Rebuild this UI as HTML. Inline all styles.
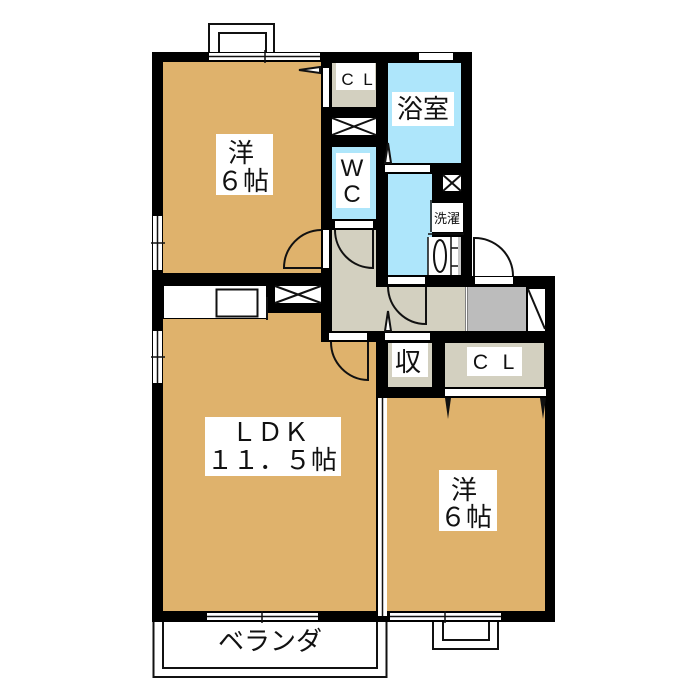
<!DOCTYPE html>
<html><head><meta charset="utf-8"><style>
html,body{margin:0;padding:0;background:#fff}
svg{display:block}
text{font-family:"Liberation Sans","Noto Sans CJK JP",sans-serif;fill:#111;text-anchor:middle}
.j{font-family:"Noto Sans CJK JP","Liberation Sans",sans-serif;font-weight:400;font-size:26px}
</style></head><body>
<svg width="700" height="700" viewBox="0 0 700 700" xmlns="http://www.w3.org/2000/svg">
<rect width="700" height="700" fill="#fff"/>
<!-- bays and balcony -->
<g fill="#fff" stroke="#111" stroke-width="2">
<rect x="209" y="24" width="65" height="29"/>
<rect x="219" y="33" width="47" height="20"/>
<rect x="153.500" y="615" width="233" height="62"/>
<rect x="163" y="615" width="214" height="53"/>
<rect x="433" y="615" width="65" height="34"/>
<rect x="443" y="615" width="46" height="25"/>
</g>
<!-- walls -->
<g fill="#000">
<rect x="152" y="52" width="320" height="224"/>
<rect x="152" y="276" width="403" height="346"/>
</g>
<!-- outer cut-outs -->
<rect x="472" y="52" width="83" height="224" fill="#fff"/>
<!-- rooms -->
<g fill="#dfb26c">
<rect x="163" y="62" width="158" height="211"/>
<polygon points="163,319 267,319 267,313 321,313 321,342 376,342 376,611 163,611"/>
<rect x="387" y="398" width="158" height="213"/>
</g>
<g fill="#aee6fb">
<rect x="388" y="63" width="73" height="100"/>
<rect x="388" y="174" width="44" height="101"/>
<rect x="332" y="147" width="44" height="72"/>
</g>
<g fill="#d3d0c0">
<rect x="332" y="63" width="44" height="44"/>
<polygon points="332,230 376,230 376,287 465,287 465,331 332,331"/>
<rect x="388" y="343" width="44" height="44"/>
<rect x="445" y="343" width="99" height="44"/>
</g>
<rect x="468" y="287" width="58" height="44" fill="#bcbcbc"/>
<rect x="528" y="289" width="17" height="42" fill="#fff"/>
<path d="M528 289L545 329" stroke="#111" stroke-width="2" fill="none"/>
<!-- white patches -->
<g fill="#fff">
<rect x="216" y="134" width="57" height="61"/>
<rect x="205" y="417" width="136" height="59"/>
<rect x="439" y="470" width="58" height="61"/>
<rect x="336" y="63" width="39" height="27"/>
<rect x="336" y="153" width="34" height="55"/>
<rect x="392" y="92" width="62" height="34"/>
<rect x="392" y="343" width="36" height="34"/>
<rect x="467" y="347" width="55" height="29"/>
<!-- closets / vents -->
<rect x="332" y="118" width="44" height="17"/>
<rect x="443" y="175" width="18" height="16"/>
<rect x="275" y="286" width="46" height="17"/>
<!-- door sills -->
<rect x="323" y="68" width="6" height="39"/>
<rect x="323" y="230" width="6" height="38"/>
<rect x="335" y="221" width="38" height="7"/>
<rect x="385" y="165" width="45" height="7"/>
<rect x="388" y="277" width="37" height="7"/>
<rect x="475" y="277" width="38" height="7"/>
<rect x="329" y="333" width="38" height="7"/>
<rect x="385" y="333" width="45" height="7"/>
<rect x="445" y="389" width="101" height="7"/>
<rect x="419" y="53" width="34" height="7"/>
<!-- kitchen counter -->
<rect x="164" y="286" width="102" height="32"/>
<!-- windows -->
<rect x="209" y="53" width="111" height="7"/>
<rect x="207" y="613" width="111" height="7"/>
<rect x="390" y="613" width="111" height="7"/>
<rect x="153" y="216" width="9" height="54"/>
<rect x="153" y="331" width="9" height="52"/>
<rect x="378" y="398" width="9" height="218"/>
</g>
<path d="M266 319H267V297" stroke="#111" stroke-width="2" fill="none"/>
<rect x="216.500" y="289.500" width="41" height="27" fill="#fff" stroke="#111" stroke-width="2"/>
<!-- window lines -->
<g stroke="#111" stroke-width="1.500" fill="none">
<path d="M209 56.500H320M207 616.500H318M390 616.500H501M157.500 216V270M157.500 331V383M382.500 398V616"/>
<path d="M265 50V63M262 611V623M445 611V623M151 243H165M151 357H165"/>
<!-- X vents -->
<path d="M332 118L376 135M376 118L332 135M443 175L461 191M461 175L443 191M275 286L321 303M321 286L275 303" stroke-width="2"/>
</g>
<!-- washer area -->
<rect x="432" y="203" width="31" height="29" fill="#fff"/>
<rect x="428" y="237" width="30" height="38" fill="#fff"/>
<rect x="458" y="237" width="3" height="38" fill="#c9c9c9"/>
<path d="M428 237V275M428 234H464M431 200V232M451 237V275M451 248H458M451 266H458" stroke="#111" stroke-width="1.500" fill="none"/>
<ellipse cx="440" cy="256" rx="6" ry="16" fill="#fff" stroke="#111" stroke-width="2"/>
<!-- door arcs -->
<g fill="none" stroke="#111" stroke-width="2">
<path d="M321 230A38 38 0 0 0 284 268H321"/>
<path d="M335 230A38 38 0 0 0 373 268V230"/>
<path d="M474 276V238A38 38 0 0 1 513 276"/>
<path d="M388 287A38 38 0 0 0 426 324V287"/>
<path d="M331 342A38 38 0 0 0 368 380V342"/>
<path d="M466.500 287V331" stroke="#fff"/>
</g>
<!-- folding door triangles -->
<g fill="#fff" stroke="#111" stroke-width="2">
<polygon points="320,67 299,70 320,73"/>
<polygon points="385,163 388,143 391,163"/>
<polygon points="385,331 388,311 391,331"/>
</g>
<g fill="#111">
<polygon points="445,398 448,419 451,398"/>
<polygon points="540,398 543,419 546,398"/>
</g>
<!-- labels -->
<text class="j" x="241" y="162">洋</text>
<text class="j" x="243" y="190">６帖</text>
<text class="j" x="270" y="441">ＬＤＫ</text>
<text class="j" x="272" y="469">１１．５帖</text>
<text class="j" x="464" y="499">洋</text>
<text class="j" x="466" y="526">６帖</text>
<text class="j" x="423" y="118">浴室</text>
<text class="j" x="408" y="371">収</text>
<text class="j" x="270" y="650">ベランダ</text>
<text x="347.500" y="85" font-size="17">C</text>
<text x="368" y="85" font-size="17">L</text>
<text x="352" y="176" font-size="24">W</text>
<text x="352" y="202" font-size="24">C</text>
<text x="480.500" y="369" font-size="21">C</text>
<text x="508.500" y="369" font-size="21">L</text>
<text class="j" x="447" y="223" style="font-size:13px">洗濯</text>
</svg>
</body></html>
